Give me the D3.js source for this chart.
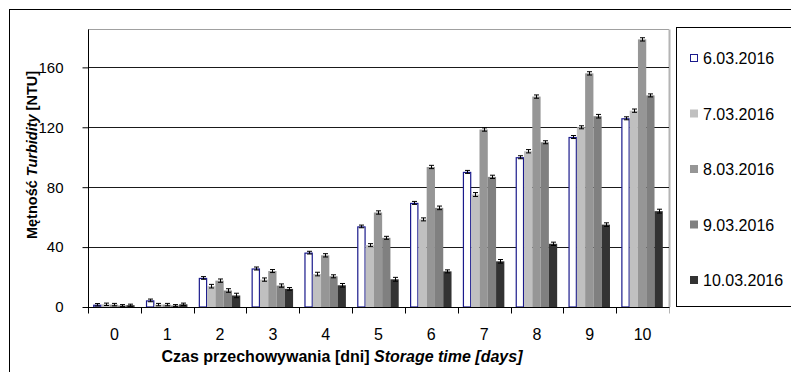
<!DOCTYPE html>
<html>
<head>
<meta charset="utf-8">
<script src="https://cdn.jsdelivr.net/npm/d3@7/dist/d3.min.js"></script>
<style>
  html, body { margin: 0; padding: 0; background: #fff; }
  svg { display: block; font-family: "Liberation Sans", Arial, sans-serif; }
</style>
</head>
<body>
<svg id="chart" width="791" height="372"></svg>
<script>
// Storage days (categories)
const days = ["0", "1", "2", "3", "4", "5", "6", "7", "8", "9", "10"];

// Sampling dates (series)
const seriesNames = ["6.03.2016", "7.03.2016", "8.03.2016", "9.03.2016", "10.03.2016"];

// Turbidity [NTU] per sampling date, one value per storage day
const turb0603 = [1.5, 4.4, 19.4, 25.7, 36.3, 53.8, 69.5, 90.2, 100.0, 113.5, 126.0];
const turb0703 = [1.8, 1.6, 13.9, 18.3, 22.0, 41.3, 58.5, 75.1, 104.0, 120.0, 131.1];
const turb0803 = [1.6, 1.6, 17.6, 24.0, 34.5, 63.1, 93.5, 118.5, 140.5, 156.0, 178.7];
const turb0903 = [1.0, 1.0, 11.0, 14.3, 20.5, 46.2, 66.2, 86.9, 110.0, 127.4, 141.3];
const turb1003 = [1.2, 1.8, 7.7, 12.1, 14.5, 18.5, 23.8, 30.5, 42.2, 55.0, 64.0];

// Standard deviations for the error bars
const err0603 = [0.8, 0.9, 0.9, 1.0, 0.9, 0.9, 1.0, 1.0, 1.0, 1.0, 1.0];
const err0703 = [0.8, 0.8, 1.2, 1.1, 1.2, 1.0, 1.0, 1.3, 1.1, 1.0, 1.1];
const err0803 = [0.8, 0.8, 1.1, 1.0, 1.1, 1.1, 1.1, 1.1, 1.1, 1.1, 1.1];
const err0903 = [0.6, 0.6, 1.2, 1.1, 1.0, 1.0, 1.2, 1.1, 1.0, 1.2, 1.0];
const err1003 = [0.7, 0.8, 1.5, 0.9, 1.2, 1.3, 1.0, 1.2, 1.1, 1.2, 1.3];

// Y axis ticks
const yTicks = [0, 40, 80, 120, 160];
const yTop = 185.3;

const fills = ["#ffffff", "#c0c0c0", "#969696", "#808080", "#333333"];
const strokes = ["#1a1a8c", "none", "none", "none", "none"];

const values = [turb0603, turb0703, turb0803, turb0903, turb1003];
const errors = [err0603, err0703, err0803, err0903, err1003];

const svg = d3.select("#chart");

// Outer chart frame
svg.append("rect")
  .attr("x", 9.5).attr("y", 9.5)
  .attr("width", 820).attr("height", 400)
  .attr("fill", "none").attr("stroke", "#000").attr("stroke-width", 1);

const plot = { left: 88, right: 669, top: 29.5, bottom: 307 };

const x = d3.scaleBand().domain(days).range([plot.left, plot.right]).padding(0);
const xs = d3.scaleBand().domain(seriesNames).range([5.2, x.bandwidth() - 6.2]).padding(0);
const y = d3.scaleLinear().domain([0, yTop]).range([plot.bottom, plot.top]);

// Plot area border (top and right)
svg.append("line")
  .attr("x1", plot.left).attr("x2", plot.right)
  .attr("y1", plot.top).attr("y2", plot.top)
  .attr("stroke", "#a0a0a0").attr("stroke-width", 1);
svg.append("line")
  .attr("x1", plot.right + 0.5).attr("x2", plot.right + 0.5)
  .attr("y1", plot.top).attr("y2", plot.bottom)
  .attr("stroke", "#b4b4b4").attr("stroke-width", 2);

// Horizontal gridlines
svg.append("g")
  .selectAll("line")
  .data(yTicks.filter(t => t > 0))
  .join("line")
  .attr("x1", plot.left).attr("x2", plot.right)
  .attr("y1", d => Math.round(y(d)) + 0.5).attr("y2", d => Math.round(y(d)) + 0.5)
  .attr("stroke", "#1a1a1a").attr("stroke-width", 1);

// Bars
const groups = svg.append("g")
  .selectAll("g")
  .data(seriesNames)
  .join("g");

groups.each(function(name, si) {
  const g = d3.select(this);
  g.selectAll("rect")
    .data(days)
    .join("rect")
    .attr("x", (d) => x(d) + xs(name) + (si === 0 ? 0.5 : 0))
    .attr("y", (d, i) => y(values[si][i]) + (si === 0 ? 0.5 : 0))
    .attr("width", xs.bandwidth() - (si === 0 ? 1 : 0))
    .attr("height", (d, i) => plot.bottom - y(values[si][i]) - (si === 0 ? 0.5 : 0))
    .attr("fill", fills[si])
    .attr("stroke", strokes[si])
    .attr("stroke-width", 1.2);
});

// Error bars
groups.each(function(name, si) {
  const g = d3.select(this).append("g").attr("stroke", "#000").attr("stroke-width", 1);
  days.forEach((d, i) => {
    const cx = Math.round(x(d) + xs(name) + xs.bandwidth() / 2) + 0.5;
    const v = values[si][i], e = errors[si][i];
    const y1 = y(v - e), y2 = y(v + e);
    g.append("line").attr("x1", cx).attr("x2", cx).attr("y1", y1).attr("y2", y2);
    g.append("line").attr("x1", cx - 2.5).attr("x2", cx + 2.5).attr("y1", y1).attr("y2", y1);
    g.append("line").attr("x1", cx - 2.5).attr("x2", cx + 2.5).attr("y1", y2).attr("y2", y2);
  });
});

// Y axis
const yAxis = d3.axisLeft(y).tickValues(yTicks).tickSize(6).tickPadding(19).tickFormat(d3.format("d"));
const yg = svg.append("g").attr("transform", `translate(${plot.left + 0.5},0)`).call(yAxis);
yg.select(".domain").attr("d", `M0,${plot.top}V${plot.bottom}`).attr("stroke", "#000");
yg.selectAll(".tick line").attr("stroke", "#000");
yg.selectAll(".tick text").attr("font-size", 15).attr("fill", "#000")
  .attr("font-family", "'Liberation Sans', Arial, sans-serif");

// X axis with ticks on category boundaries
const xAxisG = svg.append("g").attr("transform", `translate(0,${plot.bottom + 0.5})`);
xAxisG.append("line")
  .attr("x1", plot.left).attr("x2", plot.right + 1)
  .attr("stroke", "#000");
xAxisG.selectAll("line.tk")
  .data(days.concat(["end"]))
  .join("line")
  .attr("class", "tk")
  .attr("x1", (d, i) => Math.round(plot.left + i * x.step()) + 0.5)
  .attr("x2", (d, i) => Math.round(plot.left + i * x.step()) + 0.5)
  .attr("y1", 0).attr("y2", 6)
  .attr("stroke", (d, i) => i === days.length ? "#b4b4b4" : "#000");
xAxisG.selectAll("text")
  .data(days)
  .join("text")
  .attr("x", d => x(d) + x.bandwidth() / 2)
  .attr("y", 32)
  .attr("text-anchor", "middle")
  .attr("font-size", 16)
  .attr("fill", "#000")
  .text(d => d);

// Axis titles
const xt = svg.append("text")
  .attr("x", 342).attr("y", 362)
  .attr("text-anchor", "middle")
  .attr("font-size", 16).attr("font-weight", "bold");
xt.append("tspan").text("Czas przechowywania [dni] ");
xt.append("tspan").attr("font-style", "italic").text("Storage time [days]");

const yt = svg.append("text")
  .attr("transform", "translate(37,155) rotate(-90)")
  .attr("text-anchor", "middle")
  .attr("font-size", 14.5).attr("font-weight", "bold");
yt.append("tspan").text("Mętność ");
yt.append("tspan").attr("font-style", "italic").text("Turbidity");
yt.append("tspan").text(" [NTU]");

// Legend
const legend = svg.append("g");
legend.append("rect")
  .attr("x", 676.5).attr("y", 27.5)
  .attr("width", 200).attr("height", 279)
  .attr("fill", "#fff").attr("stroke", "#000").attr("stroke-width", 1);

const ly = d3.scalePoint().domain(seriesNames).range([58, 280]);
const items = legend.selectAll("g.item")
  .data(seriesNames)
  .join("g")
  .attr("class", "item")
  .attr("transform", d => `translate(0,${ly(d)})`);
items.append("rect")
  .attr("x", (d, i) => i === 0 ? 690.5 : 690)
  .attr("y", (d, i) => i === 0 ? -3.5 : -4)
  .attr("width", (d, i) => i === 0 ? 7 : 8)
  .attr("height", (d, i) => i === 0 ? 7 : 8)
  .attr("fill", (d, i) => fills[i])
  .attr("stroke", (d, i) => strokes[i])
  .attr("stroke-width", 1);
items.append("text")
  .attr("x", 703)
  .attr("y", 6)
  .attr("font-size", 16)
  .attr("fill", "#000")
  .text(d => d);
</script>
</body>
</html>
